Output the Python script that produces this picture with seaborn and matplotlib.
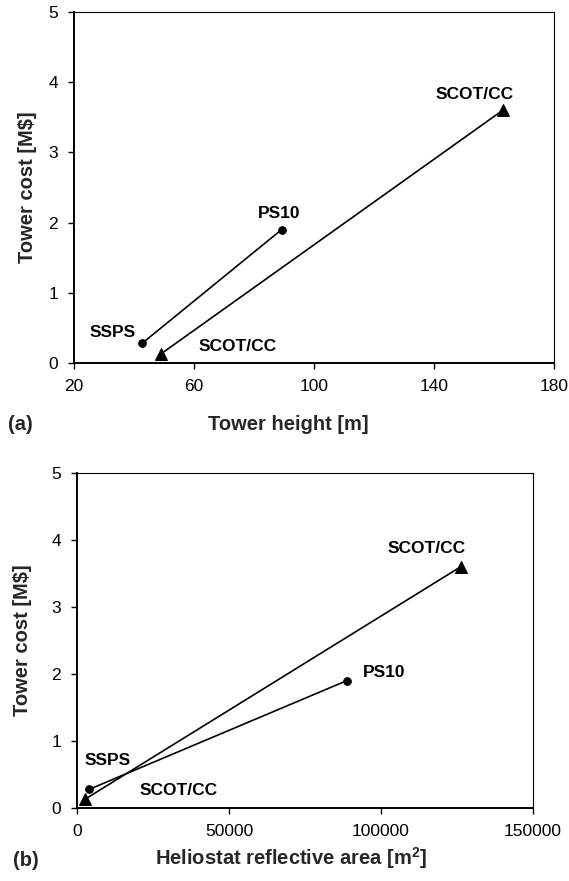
import matplotlib
matplotlib.use("Agg")
import matplotlib.pyplot as plt
import seaborn as sns
import pandas as pd

sns.set_theme(style="white")
plt.rcParams['font.family'] = ['Liberation Sans', 'DejaVu Sans']
plt.rcParams['mathtext.fontset'] = 'custom'
plt.rcParams['mathtext.rm'] = 'Liberation Sans'
plt.rcParams['mathtext.bf'] = 'Liberation Sans:bold'

# Data
plants = ["SSPS", "PS10"]
plants_height = [42.7, 89.2]
plants_cost = [0.28, 1.9]
plants_area = [4100, 88700]

scot = ["SCOT/CC", "SCOT/CC"]
scot_height = [49.0, 162.9]
scot_cost = [0.13, 3.6]
scot_area = [2600, 126200]

fig = plt.figure(figsize=(5.69, 8.81), dpi=100)
W, H = 569, 881
ax1 = fig.add_axes([74/W, 1-363/H, (554-74)/W, (363-12)/H])
ax2 = fig.add_axes([77/W, 1-808/H, (533-77)/W, (808-473)/H])

def draw(ax, xa, xb, xlim, xticks, xlabel, offsets, xlab_pos, ylab_x):
    d1 = pd.DataFrame({"x": xa, "y": plants_cost})
    d2 = pd.DataFrame({"x": xb, "y": scot_cost})
    sns.lineplot(data=d1, x="x", y="y", ax=ax, color="black", lw=1.2,
                 marker="o", markersize=5.5, markeredgecolor="black", sort=False)
    sns.lineplot(data=d2, x="x", y="y", ax=ax, color="black", lw=1.2,
                 marker="^", markersize=8, markeredgecolor="black", sort=False)
    labs = [(plants[0], xa[0], plants_cost[0]), (plants[1], xa[1], plants_cost[1]),
            (scot[0], xb[0], scot_cost[0]), (scot[1], xb[1], scot_cost[1])]
    for (t, x, y), (dx, dy, ha) in zip(labs, offsets):
        ax.annotate(t, (x, y), xytext=(dx, dy), textcoords="offset pixels",
                    ha=ha, va="center", fontsize=12.5, fontweight="bold", color="black")
    ax.set_xlim(*xlim)
    ax.set_ylim(0, 5)
    ax.set_xticks(xticks)
    ax.set_xticklabels([str(v) for v in xticks])
    ax.set_yticks([0, 1, 2, 3, 4, 5])
    ax.set_yticklabels(["0", "1", "2", "3", "4", "5"])
    ax.set_xlabel(xlabel, fontsize=14.5, fontweight="bold", va="center")
    ax.xaxis.set_label_coords(*xlab_pos)
    ax.set_ylabel("Tower cost [M$]", fontsize=14.5, fontweight="bold", va="center")
    ax.yaxis.set_label_coords(ylab_x, 0.5)
    for s in ["top", "right"]:
        ax.spines[s].set_linewidth(0.8)
        ax.spines[s].set_color("black")
    for s in ["left", "bottom"]:
        ax.spines[s].set_linewidth(1.4)
        ax.spines[s].set_color("black")
    ax.tick_params(axis="both", direction="out", length=4.5, width=1, colors="black",
                   labelsize=12.5, pad=7, left=True, bottom=True)
    ax.grid(False)

draw(ax1, plants_height, scot_height, (20, 180), [20, 60, 100, 140, 180],
     "Tower height [m]",
     [(-6, 11, "right"), (-2, 16, "center"), (38, 7, "left"), (11, 16, "right")],
     ((288-74)/480, (363-424)/351), (28-74)/480)
draw(ax2, plants_area, scot_area, (0, 150000), [0, 50000, 100000, 150000],
     "Heliostat reflective area [m$^{\\mathbf{2}}$]",
     [(18, 29, "center"), (16, 8, "left"), (55, 9, "left"), (5, 18, "right")],
     ((291-77)/456, (808-858)/335), (23-77)/456)

fig.text(8/W, 1-424/H, "(a)", fontsize=14.5, fontweight="bold", va="center", ha="left")
fig.text(13/W, 1-860/H, "(b)", fontsize=14.5, fontweight="bold", va="center", ha="left")

fig.savefig("out.png", dpi=100, facecolor="white")
